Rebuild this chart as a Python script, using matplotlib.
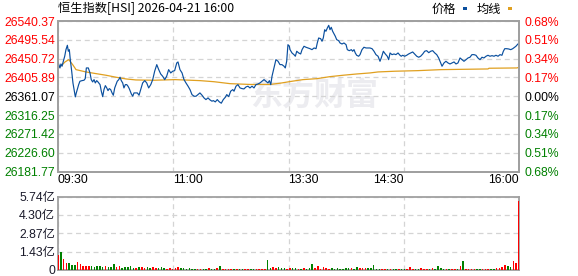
import matplotlib
matplotlib.use('Agg')
import matplotlib.pyplot as plt
from matplotlib.patches import Rectangle
import numpy as np

plt.rcParams['font.family'] = ['Liberation Sans', 'Noto Sans CJK SC']

# ---- data ----
title = '恒生指数[HSI] 2026-04-21 16:00'
prev_close = 26361.07
total_minutes = 330
y_ticks = [26181.77, 26226.60, 26271.42, 26316.25, 26361.07,
           26405.89, 26450.72, 26495.54, 26540.37]
x_labels = ['09:30', '11:00', '13:30', '14:30', '16:00']
vol_ticks = [0, 1.43, 2.87, 4.30, 5.74]
vol_labels = ['0', '1.43亿', '2.87亿', '4.30亿', '5.74亿']

# (minute since open, price)
price_pts = [
    (0.0, 26442.1), (1.4, 26428.5), (2.1, 26438.0), (2.9, 26432.6), (3.8, 26444.4),
    (4.8, 26456.4), (5.7, 26472.1), (6.7, 26482.5), (7.4, 26468.3), (8.1, 26472.1),
    (8.8, 26448.3), (9.8, 26420.7), (10.7, 26392.8), (11.7, 26373.1), (12.4, 26359.5),
    (13.1, 26369.0), (13.8, 26376.9), (14.8, 26388.8), (15.7, 26396.8), (17.2, 26398.3),
    (18.6, 26399.2), (19.5, 26403.0), (20.3, 26428.5), (21.7, 26428.5), (22.9, 26416.6),
    (23.8, 26400.7), (24.8, 26395.2), (25.8, 26400.7), (26.7, 26392.8), (27.7, 26398.3),
    (28.6, 26395.2), (30.1, 26388.8), (31.0, 26373.1), (32.0, 26360.2), (32.9, 26376.9),
    (33.9, 26386.4), (34.9, 26380.9), (35.8, 26374.5), (36.7, 26379.3), (37.7, 26376.9),
    (38.7, 26369.0), (39.6, 26363.5), (40.6, 26380.9), (41.5, 26388.8), (42.4, 26396.8),
    (43.5, 26400.7), (44.4, 26406.4), (45.3, 26398.3), (46.3, 26392.8), (47.2, 26380.9),
    (48.2, 26388.8), (49.2, 26388.8), (50.1, 26385.0), (51.0, 26379.3), (52.5, 26366.6),
    (53.5, 26361.1), (54.4, 26369.0), (55.8, 26369.0),
    (56.8, 26369.0), (58.0, 26363.5), (59.2, 26376.9), (60.6, 26392.8), (62.1, 26398.3),
    (63.5, 26392.8), (64.9, 26380.9), (66.4, 26388.8), (67.8, 26400.7), (69.2, 26420.7),
    (70.7, 26436.4), (72.1, 26424.5), (73.5, 26414.2), (74.9, 26408.8), (76.4, 26400.7),
    (77.8, 26408.8), (79.2, 26424.5), (80.7, 26416.6), (82.1, 26420.7), (83.5, 26422.1),
    (85.0, 26440.4), (85.9, 26442.8), (87.3, 26424.5), (88.8, 26416.6), (90.2, 26400.7),
    (91.6, 26392.8), (93.1, 26385.0), (94.5, 26376.9), (95.9, 26365.0), (97.4, 26361.1),
    (98.8, 26361.1), (100.2, 26365.0), (101.6, 26369.0), (103.1, 26363.5), (104.5, 26357.1),
    (105.9, 26353.1), (107.4, 26357.1), (108.8, 26352.4), (110.2, 26349.3),
    (111.2, 26350.7), (112.6, 26347.6), (114.0, 26353.1), (115.5, 26347.6), (116.9, 26344.5),
    (118.3, 26353.1), (119.8, 26358.8), (120.8, 26365.0), (122.2, 26360.2), (123.6, 26373.1),
    (125.1, 26376.9), (126.0, 26373.1), (127.4, 26385.0), (128.8, 26388.8), (130.3, 26380.9),
    (131.7, 26379.3), (133.1, 26378.5), (134.6, 26383.3), (136.0, 26385.0), (137.4, 26380.9),
    (138.9, 26385.0), (140.3, 26380.9), (141.7, 26388.8), (143.2, 26390.4), (144.6, 26392.8),
    (146.0, 26396.8), (147.5, 26400.7), (148.9, 26396.8), (150.3, 26392.8), (151.3, 26398.3),
    (152.3, 26388.8), (153.2, 26408.8), (154.6, 26428.5), (156.0, 26448.3), (157.5, 26444.4),
    (158.9, 26436.4), (160.3, 26436.4), (161.8, 26432.6), (162.7, 26428.5), (163.7, 26444.4),
    (164.6, 26484.0), (165.6, 26480.2),
    (166.1, 26472.1), (167.5, 26464.2), (168.9, 26460.2), (169.9, 26456.4), (170.9, 26468.3),
    (172.3, 26464.2), (173.7, 26461.8), (174.7, 26472.1), (176.1, 26480.2), (177.5, 26477.8),
    (179.0, 26476.1), (180.4, 26474.4), (181.8, 26472.1), (183.3, 26476.1), (184.7, 26474.4),
    (185.6, 26488.0), (186.6, 26499.9), (188.0, 26498.3), (189.0, 26492.1), (189.9, 26499.9),
    (190.9, 26519.6), (191.8, 26515.9), (192.8, 26523.7), (193.8, 26530.1), (194.7, 26519.6),
    (195.6, 26525.4), (196.6, 26515.9), (197.6, 26509.4), (198.5, 26504.0), (199.5, 26495.9),
    (200.9, 26493.5), (201.9, 26488.0), (203.3, 26485.6), (204.7, 26488.0), (206.2, 26484.0),
    (207.1, 26472.1), (208.5, 26469.7), (210.0, 26472.1), (210.9, 26468.3), (211.9, 26472.1),
    (212.8, 26464.2), (213.8, 26458.7), (215.2, 26456.4), (216.2, 26460.2), (217.6, 26472.1),
    (219.0, 26477.8), (220.5, 26476.1), (221.9, 26476.1),
    (223.3, 26476.1), (224.8, 26474.4), (226.2, 26468.3), (227.6, 26460.2), (229.1, 26456.4),
    (230.5, 26444.4), (231.4, 26452.3), (232.9, 26468.3), (234.3, 26461.8), (235.7, 26456.4),
    (236.7, 26448.3), (237.7, 26464.2), (239.1, 26460.2), (240.5, 26461.8), (241.9, 26460.2),
    (243.4, 26464.2), (244.8, 26458.7), (245.7, 26456.4), (246.7, 26458.7), (248.2, 26456.4),
    (249.6, 26458.7), (251.0, 26461.8), (252.5, 26464.2), (253.9, 26466.6), (255.3, 26461.8),
    (256.8, 26456.4), (258.2, 26454.0), (259.6, 26456.4), (261.1, 26461.8), (262.5, 26468.3),
    (263.9, 26469.7), (265.4, 26464.9), (266.8, 26468.3), (268.2, 26469.7), (269.7, 26464.2),
    (271.1, 26460.2), (272.5, 26452.3), (273.9, 26440.4), (274.9, 26432.6), (276.3, 26440.4),
    (277.7, 26444.4),
    (279.2, 26440.4), (280.6, 26438.0), (282.0, 26440.4), (283.5, 26442.8), (284.9, 26438.0),
    (286.3, 26440.4), (287.8, 26452.3), (289.2, 26448.3), (290.6, 26444.4), (292.1, 26448.3),
    (293.5, 26452.3), (294.9, 26454.0), (296.3, 26460.2), (297.8, 26460.2), (299.2, 26458.7),
    (300.6, 26452.3), (302.1, 26448.3), (303.5, 26454.0), (304.9, 26452.3), (306.4, 26456.4),
    (307.8, 26458.7), (309.2, 26456.4), (310.7, 26457.8), (312.1, 26456.4), (313.5, 26458.7),
    (315.0, 26456.4), (316.4, 26460.2), (317.8, 26458.7), (318.8, 26468.3), (319.8, 26474.4),
    (321.2, 26474.4), (322.6, 26473.7), (324.1, 26472.1), (325.5, 26474.4), (326.9, 26477.8),
    (327.8, 26480.2), (328.8, 26484.0), (330.0, 26488.0),
]

# (minute since open, average price)
avg_pts = [
    (0.0, 26428.5), (2.9, 26435.6), (5.0, 26442.8), (7.7, 26448.3), (10.5, 26436.4),
    (12.9, 26424.5), (20.0, 26419.0), (27.2, 26415.0), (34.4, 26411.1), (41.5, 26406.4),
    (48.7, 26402.3), (55.8, 26399.9), (68.7, 26399.2), (83.8, 26400.7), (101.6, 26398.3),
    (111.7, 26395.7), (123.1, 26391.1), (137.4, 26389.2), (151.8, 26389.2), (158.9, 26392.1),
    (167.5, 26396.8), (175.4, 26400.7), (185.4, 26403.0), (194.7, 26407.8), (204.0, 26411.1),
    (214.0, 26414.2), (223.3, 26416.6), (229.1, 26419.0), (241.2, 26420.7), (257.7, 26422.1),
    (274.2, 26424.5), (307.8, 26426.1), (308.5, 26427.8), (328.5, 26428.5), (330.0, 26430.2),
]

# volume in 亿, one bar every 2 minutes
vol = [
    1.15, 1.42, 0.85, 0.52, 0.55, 0.42, 0.40, 0.63, 0.45, 0.35,
    0.30, 0.28, 0.33, 0.25, 0.30, 0.28, 0.22, 0.30, 0.25, 0.20,
    0.45, 0.22, 0.30, 0.18, 0.25, 0.20, 0.28, 0.18, 0.15, 0.22,
    0.20, 0.15, 0.25, 0.18, 0.22, 0.15, 0.12, 0.20, 0.15, 0.10,
    0.12, 0.08, 0.15, 0.20, 0.12, 0.15, 0.10, 0.12, 0.08, 0.10,
    0.06, 0.08, 0.10, 0.08, 0.12, 0.10, 0.08, 0.15, 0.30, 0.10,
    0.08, 0.06, 0.05, 0.06, 0.05, 0.06, 0.05, 0.06, 0.05, 0.06,
    0.05, 0.06, 0.05, 0.06, 0.08, 0.78, 0.15, 0.20, 0.12, 0.20,
    0.12, 0.15, 0.10, 0.15, 0.12, 0.18, 0.08, 0.10, 0.15, 0.08,
    0.12, 0.47, 0.15, 0.30, 0.10, 0.25, 0.12, 0.08, 0.15, 0.10,
    0.12, 0.08, 0.10, 0.15, 0.12, 0.18, 0.10, 0.20, 0.15, 0.12,
    0.15, 0.18, 0.12, 0.39, 0.08, 0.05, 0.06, 0.05, 0.06, 0.05,
    0.06, 0.05, 0.06, 0.05, 0.05, 0.06, 0.25, 0.08, 0.10, 0.08,
    0.12, 0.10, 0.08, 0.10, 0.12, 0.08, 0.30, 0.15, 0.08, 0.05,
    0.06, 0.05, 0.06, 0.05, 0.35, 0.73, 0.06, 0.05, 0.06, 0.05,
    0.06, 0.05, 0.06, 0.08, 0.06, 0.10, 0.08, 0.12, 0.12, 0.20,
    0.39, 0.30, 0.25, 0.70, 0.57, 5.35,
]

# ---- styling ----
RED = '#ff0000'
GREEN = '#008000'
BLUE = '#0a4f9e'
GOLD = '#e0a020'
GRID = '#d4d4d4'
SPINE = '#a0a0a0'

price_t, price = zip(*price_pts)
avg_t, avg = zip(*avg_pts)
vol_t = np.arange(len(vol)) * 2

fig = plt.figure(figsize=(5.78, 2.76), dpi=100)
ax = fig.add_axes([58 / 578, 1 - 171.5 / 276, 461 / 578, 150.5 / 276])
axv = fig.add_axes([58 / 578, 1 - 270 / 276, 461 / 578, 73.5 / 276])

quarters = np.linspace(0, total_minutes, 5)

# watermark
ax.text(0.555, 0.5, '东方财富', transform=ax.transAxes, fontsize=23,
        fontweight='bold', color='#ececf0', ha='center', va='center',
        family=['Noto Sans CJK SC'], zorder=0)

ax.plot(avg_t, avg, color=GOLD, lw=0.9, zorder=3)
ax.plot(price_t, price, color=BLUE, lw=0.85, zorder=4)

ax.set_xlim(0, total_minutes)
ax.set_ylim(y_ticks[0], y_ticks[-1])
ax.set_yticks(y_ticks)
ax.set_yticklabels([f'{v:.2f}' for v in y_ticks], fontsize=8.8)
for lbl, v in zip(ax.get_yticklabels(), y_ticks):
    lbl.set_color(RED if v > prev_close + 0.01 else (GREEN if v < prev_close - 0.01 else 'black'))

ax.set_xticks(quarters)
ax.set_xticklabels(x_labels, fontsize=8.8)
for i, lbl in enumerate(ax.get_xticklabels()):
    lbl.set_ha('left' if i < 3 else 'right')
ax.tick_params(axis='both', length=0, pad=2)

# right-hand percent axis
axr = ax.twinx()
axr.set_ylim(ax.get_ylim())
axr.set_yticks(y_ticks)
axr.set_yticklabels([f'{abs(v - prev_close) / prev_close * 100:.2f}%' for v in y_ticks], fontsize=8.8)
for lbl, v in zip(axr.get_yticklabels(), y_ticks):
    lbl.set_color(RED if v > prev_close + 0.01 else (GREEN if v < prev_close - 0.01 else 'black'))
axr.tick_params(axis='y', length=0, pad=4)

for a in (ax, axv, axr):
    for s in a.spines.values():
        s.set_color(SPINE)
        s.set_linewidth(1.3)

ax.grid(True, color=GRID, linestyle=(0, (4, 3)), lw=0.9)
ax.set_axisbelow(True)

# volume panel
p_now = np.interp(vol_t, price_t, price)
p_before = np.interp(vol_t - 2, price_t, price, left=prev_close)
bar_colors = [RED if a >= b else GREEN for a, b in zip(p_now, p_before)]
axv.bar(vol_t, vol, width=1.1, color=bar_colors, linewidth=0, zorder=3)
axv.set_xlim(0, total_minutes)
axv.set_ylim(0, vol_ticks[-1])
axv.set_yticks(vol_ticks)
axv.set_yticklabels(vol_labels, fontsize=8.8, color='#1a1a2a')
axv.set_xticks(quarters)
axv.set_xticklabels([])
axv.tick_params(axis='both', length=0, pad=2)
axv.grid(True, color=GRID, linestyle=(0, (4, 3)), lw=0.9)
axv.set_axisbelow(True)

# title and legend
fig.text(58 / 578, 1 - 9 / 276, title, fontsize=8.8, ha='left', va='center',
         family=['Noto Sans CJK SC', 'DejaVu Sans'])
fig.text(432 / 578, 1 - 9 / 276, '价格', fontsize=8.8, ha='left', va='center',
         family=['Noto Sans CJK SC'])
fig.add_artist(Rectangle((463 / 578, 1 - 10 / 276), 4 / 578, 3 / 276,
                         transform=fig.transFigure, color=BLUE, lw=0))
fig.text(477 / 578, 1 - 9 / 276, '均线', fontsize=8.8, ha='left', va='center',
         family=['Noto Sans CJK SC'])
fig.add_artist(Rectangle((508 / 578, 1 - 10 / 276), 4 / 578, 3 / 276,
                         transform=fig.transFigure, color=GOLD, lw=0))

fig.savefig('out.png', dpi=100, facecolor='white')
